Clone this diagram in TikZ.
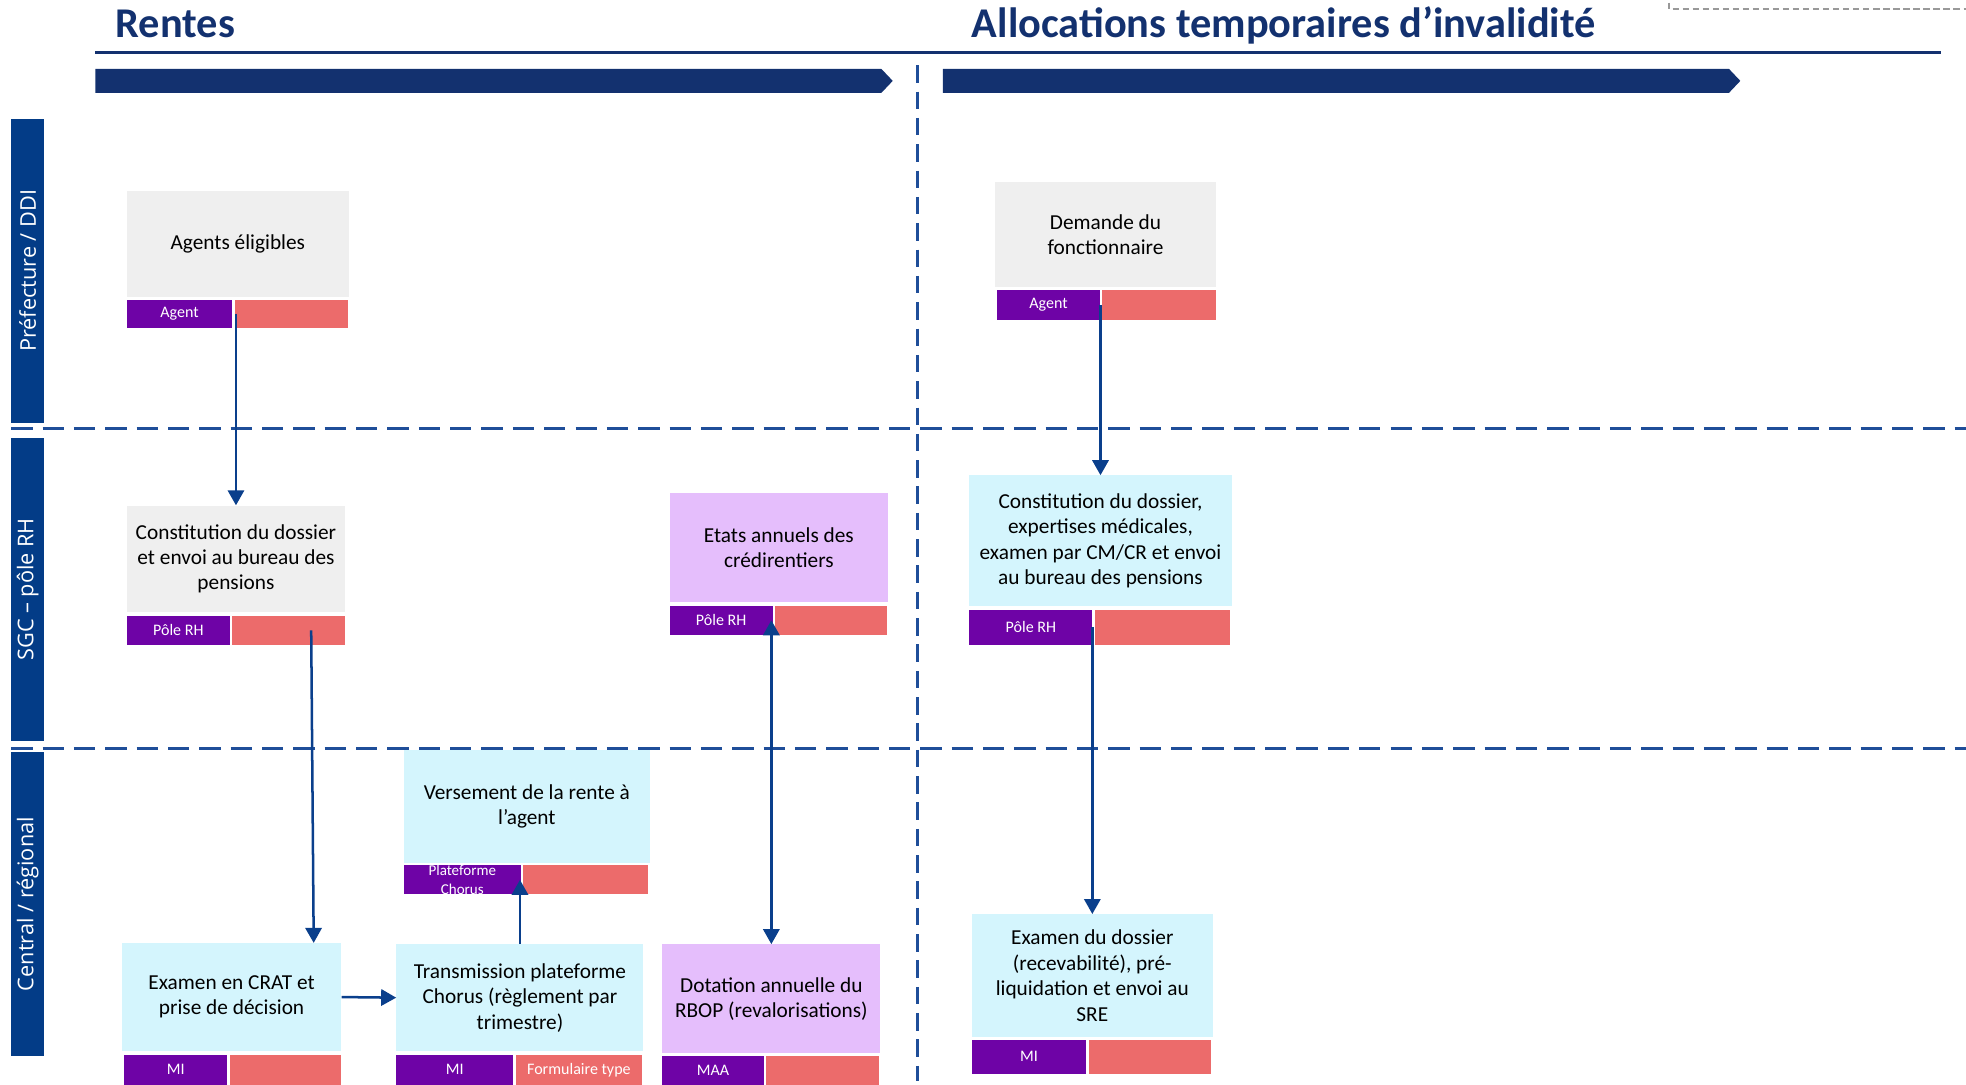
\documentclass[tikz,border=0pt]{standalone}
\usepackage{fontspec}
\setmainfont{Carlito}
\newfontfamily\lanefont{Open Sans}
\usetikzlibrary{arrows.meta,calc}
\definecolor{navy}{HTML}{13316F}
\definecolor{lanecol}{HTML}{033C87}
\definecolor{conncol}{HTML}{0A3F8C}
\definecolor{dashcol}{HTML}{1F4E99}
\definecolor{boxgray}{HTML}{EFEFEF}
\definecolor{boxcyan}{HTML}{D4F5FD}
\definecolor{boxlilac}{HTML}{E5BEFC}
\definecolor{tagpurple}{HTML}{6E03A6}
\definecolor{tagred}{HTML}{EC6B6B}
\begin{document}
\begin{tikzpicture}[x=1pt,y=-1pt,
  >={Triangle[width=13pt,length=12pt]},
  box/.style={anchor=north west, inner sep=0pt, align=center, text=black,
    font=\fontsize{17}{20.3}\selectfont},
  gbox/.style={box, fill=boxgray},
  cbox/.style={box, fill=boxcyan},
  lbox/.style={box, fill=boxlilac},
  ptag/.style={anchor=north west, inner sep=0pt, fill=tagpurple, text=white,
    align=center, font=\fontsize{12.8}{13}\selectfont},
  rtag/.style={anchor=north west, inner sep=0pt, fill=tagred, text=white,
    align=center, font=\fontsize{12.8}{13}\selectfont},
  conn/.style={->, draw=conncol, line width=2pt},
  lane/.style={fill=lanecol, text=white, inner sep=0pt, rotate=90,
    font=\lanefont\fontsize{17.3}{20}\selectfont},
  title/.style={anchor=base west, text=navy, inner sep=0pt,
    font=\bfseries\fontsize{33.8}{38}\selectfont},
  sep/.style={draw=dashcol, line width=2.2pt, dash pattern=on 17pt off 8pt}
]
\useasboundingbox (0,0) rectangle (1568,865);

% titles
\node[title] (T1) at (92,30) {Rentes};
\node[title] (T2) at (775,30) {Allocations temporaires d’invalidité};
\draw[navy, line width=2pt] (76,42) -- (1548,42);
\draw[gray!80, line width=1.3pt, dash pattern=on 5pt off 3pt] (1331,2) -- (1331,7) -- (1568,7);

% phase arrows
\fill[navy] (76,55) -- (703,55) -- (712,64.5) -- (703,74) -- (76,74) -- cycle;
\fill[navy] (752,55) -- (1379,55) -- (1388,64.5) -- (1379,74) -- (752,74) -- cycle;

% separators
\draw[sep] (9,342) -- (1568,342);
\draw[sep] (9,597) -- (1568,597);
\draw[draw=dashcol, line width=2.2pt, dash pattern=on 14pt off 7pt] (732,52) -- (732,862);

% lanes
\node[lane, minimum width=242pt, minimum height=26pt] (L1) at (22,216) {Préfecture / DDI};
\node[lane, minimum width=242pt, minimum height=26pt] (L2) at (22,470) {SGC – pôle RH};
\node[lane, minimum width=242pt, minimum height=26pt] (L3) at (22,721) {Central / régional};

% boxes - Rentes
\node[gbox, minimum width=177pt, minimum height=85pt] (a1) at (101,152) {Agents éligibles};
\node[ptag, minimum width=84pt, minimum height=22pt] (a1p) at (101,239) {Agent};
\node[rtag, minimum width=90pt, minimum height=22pt] (a1r) at (187,239) {};

\node[gbox, minimum width=174pt, minimum height=85pt] (b1) at (101,403) {Constitution du dossier\\et envoi au bureau des\\pensions};
\node[ptag, minimum width=82pt, minimum height=23pt] (b1p) at (101,491) {Pôle RH};
\node[rtag, minimum width=90pt, minimum height=23pt] (b1r) at (185,491) {};

\node[lbox, minimum width=174pt, minimum height=87pt] (e1) at (534,393) {Etats annuels des\\crédirentiers};
\node[ptag, minimum width=82pt, minimum height=23pt] (e1p) at (534,483) {Pôle RH};
\node[rtag, minimum width=89pt, minimum height=23pt] (e1r) at (618,483) {};

\node[cbox, minimum width=196pt, minimum height=90pt] (v1) at (322,598) {Versement de la rente à\\l’agent};
\node[ptag, minimum width=93pt, minimum height=23pt, font=\fontsize{12}{14.5}\selectfont] (v1p) at (322,690) {Plateforme\\Chorus};
\node[rtag, minimum width=100pt, minimum height=23pt] (v1r) at (417,690) {};

\node[cbox, minimum width=175pt, minimum height=86pt] (c1) at (97,752) {Examen en CRAT et\\prise de décision};
\node[ptag, minimum width=82pt, minimum height=24pt] (c1p) at (99,841) {MI};
\node[rtag, minimum width=89pt, minimum height=24pt] (c1r) at (183,841) {};

\node[cbox, minimum width=197pt, minimum height=85pt] (t1) at (316,753) {Transmission plateforme\\Chorus (règlement par\\trimestre)};
\node[ptag, minimum width=93pt, minimum height=24pt] (t1p) at (316,841) {MI};
\node[rtag, minimum width=101pt, minimum height=24pt] (t1r) at (411,841) {Formulaire type};

\node[lbox, minimum width=174pt, minimum height=87pt] (d1) at (528,753) {Dotation annuelle du\\RBOP (revalorisations)};
\node[ptag, minimum width=81pt, minimum height=23pt] (d1p) at (528,842) {MAA};
\node[rtag, minimum width=90pt, minimum height=23pt] (d1r) at (611,842) {};

% boxes - ATI
\node[gbox, minimum width=177pt, minimum height=84pt] (a2) at (793,145) {Demande du\\fonctionnaire};
\node[ptag, minimum width=82pt, minimum height=24pt] (a2p) at (795,231) {Agent};
\node[rtag, minimum width=91pt, minimum height=24pt] (a2r) at (879,231) {};

\node[cbox, minimum width=209pt, minimum height=104pt] (b2) at (773,379) {Constitution du dossier,\\expertises médicales,\\examen par CM/CR et envoi\\au bureau des pensions};
\node[ptag, minimum width=98pt, minimum height=28pt] (b2p) at (773,486) {Pôle RH};
\node[rtag, minimum width=108pt, minimum height=28pt] (b2r) at (873,486) {};

\node[cbox, minimum width=192pt, minimum height=98pt] (x2) at (775,729) {Examen du dossier\\(recevabilité), pré-\\liquidation et envoi au\\SRE};
\node[ptag, minimum width=91pt, minimum height=27pt] (x2p) at (775,829) {MI};
\node[rtag, minimum width=98pt, minimum height=27pt] (x2r) at (868,829) {};

% connectors
\draw[conn] (b1.north |- a1p.center) -- (b1.north);
\draw[conn] ([xshift=18pt]b1r.center) -- ([xshift=65.5pt]c1.north);
\draw[conn] (c1.east) -- (t1.west);
\draw[conn] (t1.north) -- (t1.north |- v1p.center);
\draw[conn, <->] (d1.north |- e1p.center) -- (d1.north);
\draw[conn] (b2.north |- a2p.center) -- (b2.north);
\draw[conn] (x2.north |- b2p.center) -- (x2.north);
\end{tikzpicture}
\end{document}
